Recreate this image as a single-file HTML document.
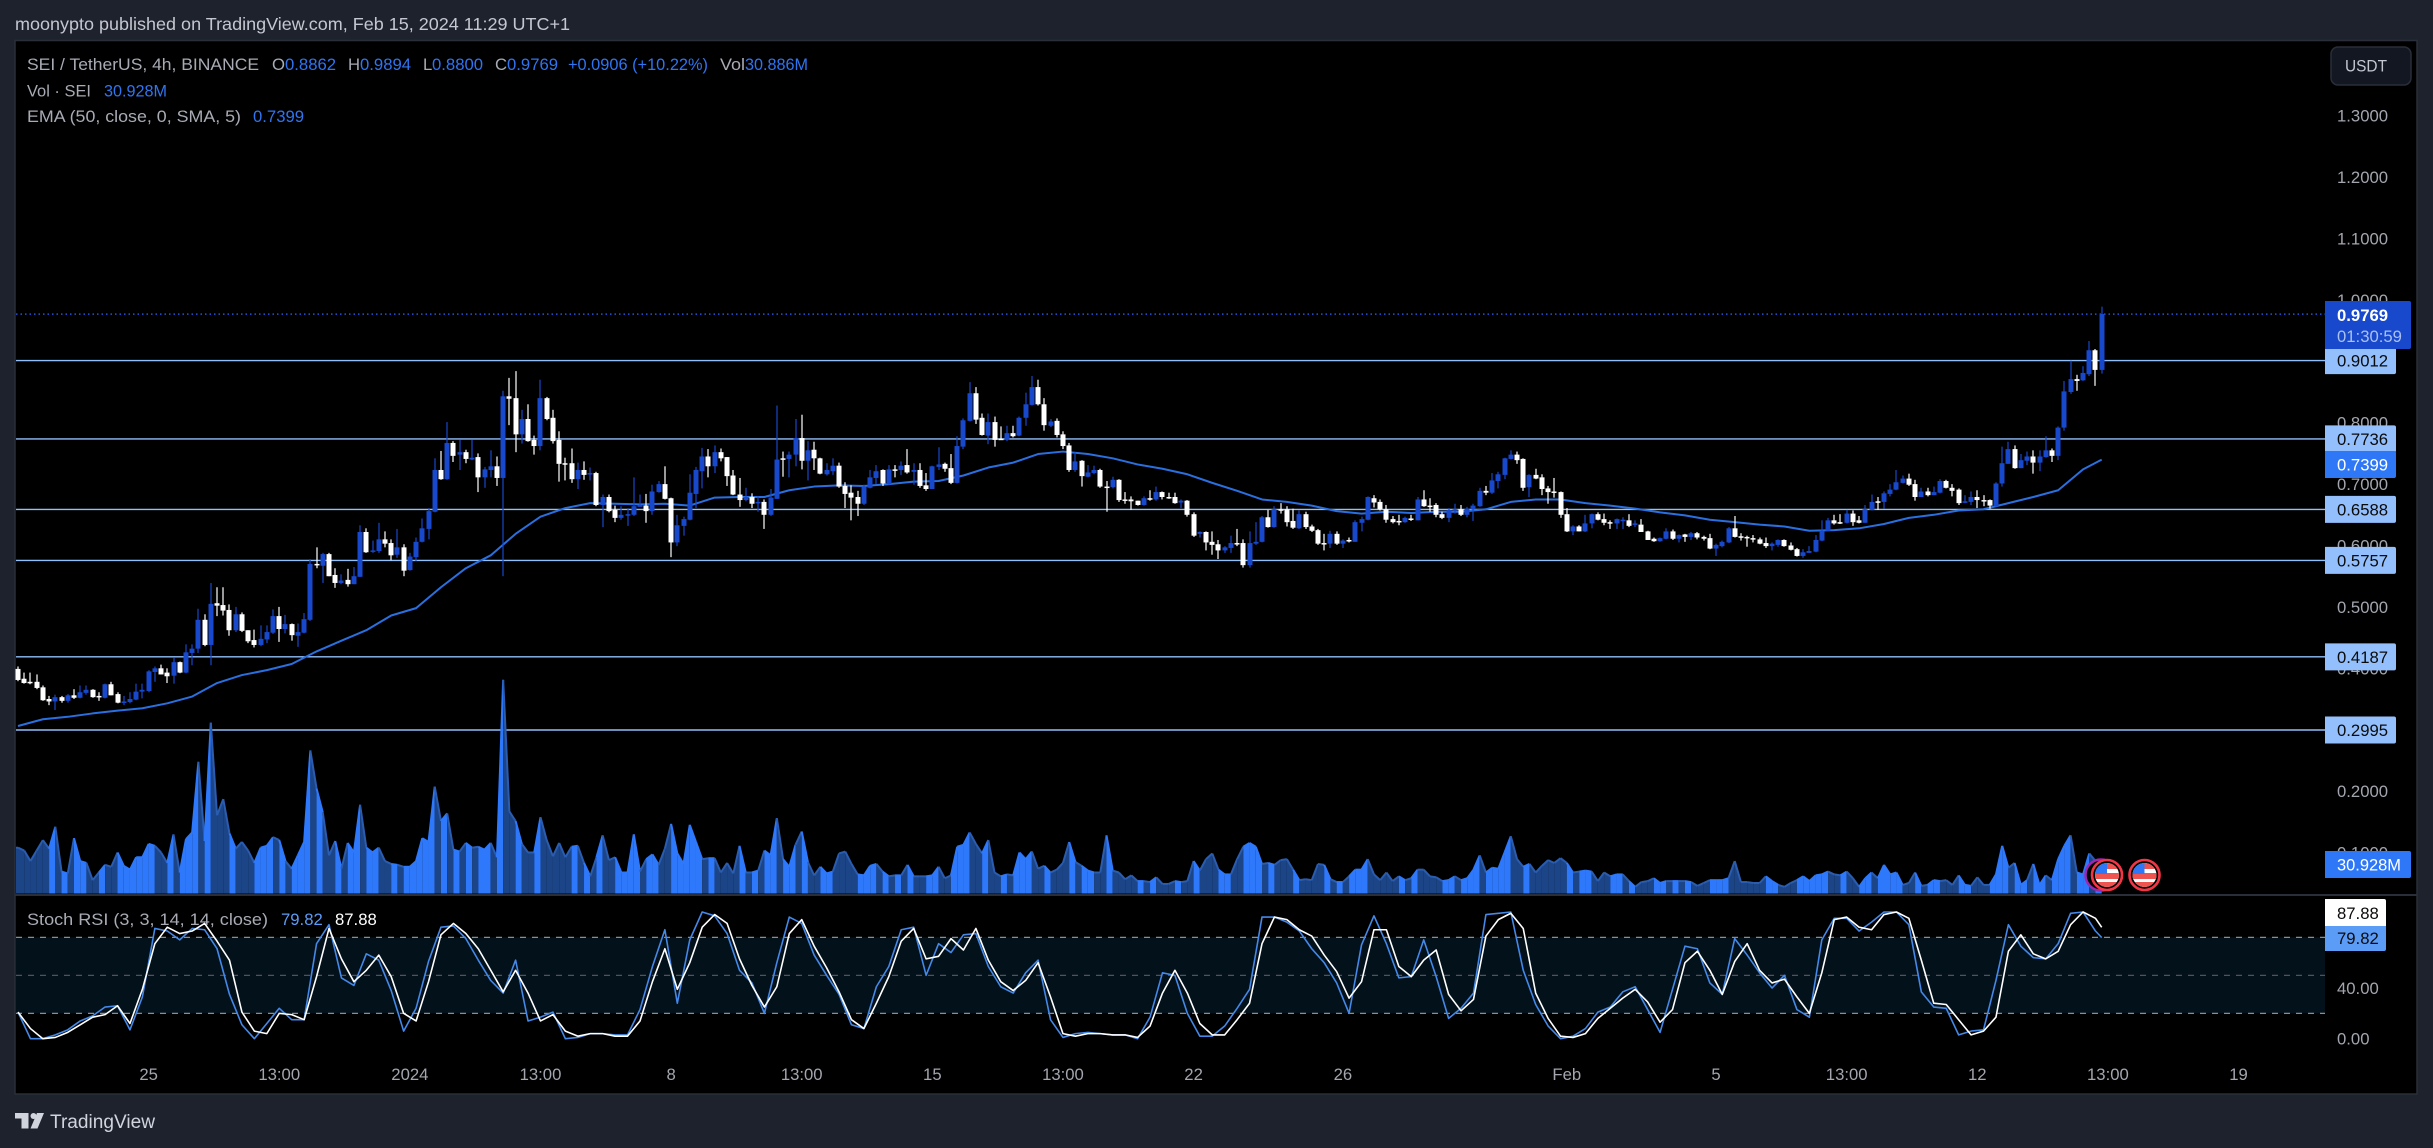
<!DOCTYPE html>
<html lang="en">
<head>
<meta charset="utf-8">
<title>SEI / TetherUS chart</title>
<style>
html,body{margin:0;padding:0;background:#1e222d;}
svg{display:block;}
text{font-family:"Liberation Sans",sans-serif;font-size:16.7px;}
.lg{fill:#a8abb4;}
.val{fill:#2f74f0;}
.tick{fill:#a3a6af;}
.blk{fill:#0a0a0a;}
</style>
</head>
<body>
<svg id="root" xmlns="http://www.w3.org/2000/svg" width="2433" height="1148" viewBox="0 0 2433 1148">
  <defs>
    <clipPath id="flagClip"><circle cx="0" cy="0" r="12"/></clipPath>
  </defs>
  <rect x="0" y="0" width="2433" height="1148" fill="#1e222d"/>
  <text x="15" y="30" fill="#c4c7cf" font-size="17" textLength="555" lengthAdjust="spacingAndGlyphs" style="font-size:17.5px">moonypto published on TradingView.com, Feb 15, 2024 11:29 UTC+1</text>
  <rect x="15" y="40.5" width="2402" height="1053.5" fill="#000" stroke="#2a2e39" stroke-width="1.5"/>
  <rect x="16" y="937.3" width="2309" height="76" fill="#03111b"/>
  <g id="grid"></g>
  <line x1="15" x2="2417" y1="895" y2="895" stroke="#2a2e39" stroke-width="2"/>
  <g id="volume"></g>
  <g id="ema"></g>
  <g id="candles"></g>
  <g id="stoch"></g>

  <g transform="translate(2101,875)">
    <circle r="15.5" fill="#000" stroke="#9c27b0" stroke-width="2.5"/>
  </g>
  <g transform="translate(2107,875)">
    <circle r="15" fill="#000" stroke="#f23645" stroke-width="2.6"/>
    <g clip-path="url(#flagClip)">
      <rect x="-12" y="-12" width="24" height="24" fill="#fff"/>
      <rect x="-12" y="-2" width="24" height="6" fill="#ef5350"/>
      <rect x="-12" y="7" width="24" height="6" fill="#ef5350"/>
      <rect x="0" y="-12" width="12" height="6" fill="#ef5350"/>
      <rect x="-12" y="-12" width="12" height="11" fill="#2e78f8"/>
    </g>
  </g>
  <g transform="translate(2144.5,875)">
    <circle r="15" fill="#000" stroke="#f23645" stroke-width="2.6"/>
    <g clip-path="url(#flagClip)">
      <rect x="-12" y="-12" width="24" height="24" fill="#fff"/>
      <rect x="-12" y="-2" width="24" height="6" fill="#ef5350"/>
      <rect x="-12" y="7" width="24" height="6" fill="#ef5350"/>
      <rect x="0" y="-12" width="12" height="6" fill="#ef5350"/>
      <rect x="-12" y="-12" width="12" height="11" fill="#2e78f8"/>
    </g>
  </g>

  <g id="priceTicks"></g>
  <g id="timeTicks"></g>
  <g id="stochTicks"></g>
  <g id="levelTags"></g>

  <g>
    <path d="M2325 451H2394a2 2 0 0 1 2 2V476a2 2 0 0 1-2 2H2325Z" fill="#2e78f8"/>
    <text x="2337" y="470.5" fill="#fff">0.7399</text>
  </g>
  <g>
    <path d="M2325 301H2409a2 2 0 0 1 2 2V347a2 2 0 0 1-2 2H2325Z" fill="#1848cc"/>
    <text x="2337" y="321" fill="#fff" style="font-weight:bold">0.9769</text>
    <text x="2337" y="342" fill="#a9c0f0">01:30:59</text>
  </g>
  <g>
    <path d="M2325 851H2409a2 2 0 0 1 2 2V876a2 2 0 0 1-2 2H2325Z" fill="#2e78f8"/>
    <text x="2337" y="870.5" fill="#fff" textLength="64" lengthAdjust="spacingAndGlyphs">30.928M</text>
  </g>
  <g>
    <path d="M2325 899H2384a2 2 0 0 1 2 2V926H2325Z" fill="#fff"/>
    <text x="2337" y="919" fill="#0a0a0a">87.88</text>
  </g>
  <g>
    <path d="M2325 926H2386V949a2 2 0 0 1-2 2H2325Z" fill="#5b9cf6"/>
    <text x="2337" y="944" fill="#0a0a0a">79.82</text>
  </g>

  <g>
    <rect x="2331" y="47" width="80" height="38" rx="7" fill="#131722" stroke="#2a2e39" stroke-width="1.5"/>
    <text x="2345" y="71.5" fill="#c4c7cf" textLength="42" lengthAdjust="spacingAndGlyphs">USDT</text>
  </g>

  <g>
    <text class="lg" x="27" y="70" textLength="232" lengthAdjust="spacingAndGlyphs">SEI / TetherUS, 4h, BINANCE</text>
    <text class="lg" x="272" y="70">O</text><text class="val" x="285" y="70">0.8862</text>
    <text class="lg" x="348" y="70">H</text><text class="val" x="360" y="70">0.9894</text>
    <text class="lg" x="423" y="70">L</text><text class="val" x="432" y="70">0.8800</text>
    <text class="lg" x="495" y="70">C</text><text class="val" x="507" y="70">0.9769</text>
    <text class="val" x="568" y="70" textLength="140" lengthAdjust="spacingAndGlyphs">+0.0906 (+10.22%)</text>
    <text class="lg" x="720" y="70" textLength="25" lengthAdjust="spacingAndGlyphs">Vol</text>
    <text class="val" x="745" y="70" textLength="63" lengthAdjust="spacingAndGlyphs">30.886M</text>
    <text class="lg" x="27" y="96.5" textLength="64" lengthAdjust="spacingAndGlyphs">Vol · SEI</text>
    <text class="val" x="104" y="96.5" textLength="63" lengthAdjust="spacingAndGlyphs">30.928M</text>
    <text class="lg" x="27" y="122" textLength="214" lengthAdjust="spacingAndGlyphs">EMA (50, close, 0, SMA, 5)</text>
    <text class="val" x="253" y="122">0.7399</text>
  </g>
  <g>
    <text class="lg" x="27" y="925" textLength="241" lengthAdjust="spacingAndGlyphs">Stoch RSI (3, 3, 14, 14, close)</text>
    <text x="281" y="925" fill="#5b9cf6">79.82</text>
    <text x="335" y="925" fill="#fff">87.88</text>
  </g>

  <g>
    <path d="M15 1113H28.5V1128.5H21.5V1118.5H15Z" fill="#d1d4dc"/>
    <circle cx="33.5" cy="1116" r="3" fill="#d1d4dc"/>
    <path d="M37 1113H44L37.5 1128.5H30.5Z" fill="#d1d4dc"/>
    <text x="50" y="1128" fill="#d1d4dc" textLength="105" lengthAdjust="spacingAndGlyphs" style="font-size:19px">TradingView</text>
  </g>
</svg>
<script>
const opens = [
.399,.383,.378,.378,.369,.350,.346,.353,.347,.356,
.352,.360,.365,.355,.352,.374,.358,.346,.345,.349,
.362,.363,.394,.400,.393,.388,.410,.393,.425,.432,
.479,.438,.506,.503,.495,.462,.488,.462,.446,.438,
.447,.458,.485,.464,.472,.453,.458,.479,.570,.567,
.586,.552,.539,.544,.537,.549,.622,.591,.591,.610,
.604,.585,.597,.560,.581,.606,.627,.655,.723,.708,
.767,.748,.752,.740,.744,.711,.723,.729,.710,.843,
.840,.781,.806,.772,.762,.840,.808,.772,.734,.734,
.708,.723,.716,.718,.666,.679,.658,.645,.650,.650,
.663,.665,.656,.687,.700,.677,.605,.632,.642,.684,
.721,.745,.729,.752,.744,.714,.683,.674,.679,.670,
.671,.650,.676,.742,.741,.748,.775,.738,.756,.742,
.716,.721,.730,.697,.686,.679,.668,.694,.710,.723,
.700,.724,.723,.731,.720,.723,.698,.692,.728,.733,
.726,.702,.761,.803,.848,.808,.779,.801,.774,.772,
.783,.779,.808,.829,.858,.830,.795,.803,.781,.763,
.723,.738,.712,.718,.723,.696,.695,.707,.675,.675,
.673,.666,.677,.675,.687,.679,.679,.670,.673,.651,
.619,.622,.606,.602,.592,.596,.604,.604,.568,.603,
.606,.646,.630,.659,.659,.640,.628,.651,.631,.625,
.604,.603,.619,.603,.609,.606,.637,.642,.677,.671,
.659,.643,.640,.638,.644,.641,.675,.665,.666,.651,
.645,.658,.659,.650,.659,.664,.689,.686,.705,.715,
.741,.748,.741,.695,.715,.711,.693,.688,.687,.651,
.623,.631,.623,.636,.651,.643,.638,.636,.642,.641,
.634,.634,.623,.611,.607,.611,.623,.611,.618,.614,
.620,.614,.612,.595,.599,.605,.628,.615,.614,.612,
.610,.604,.599,.601,.609,.600,.594,.583,.588,.590,
.608,.624,.641,.638,.637,.652,.641,.637,.658,.672,
.671,.684,.691,.702,.709,.700,.679,.688,.682,.686,
.705,.694,.691,.670,.671,.679,.674,.674,.664,.701,
.733,.757,.726,.738,.745,.735,.744,.755,.746,.792,
.850,.871,.869,.879,.918,.886];
const highs = [
.403,.393,.393,.390,.372,.355,.357,.355,.358,.366,
.372,.372,.366,.361,.375,.378,.361,.355,.361,.375,
.375,.397,.403,.406,.400,.418,.411,.439,.439,.497,
.488,.539,.532,.532,.504,.500,.491,.462,.463,.470,
.470,.496,.500,.487,.473,.473,.490,.578,.597,.588,
.588,.563,.553,.562,.565,.633,.628,.608,.637,.623,
.610,.627,.602,.588,.613,.644,.661,.742,.754,.801,
.770,.772,.756,.772,.750,.728,.755,.745,.852,.873,
.884,.821,.830,.779,.870,.842,.821,.786,.743,.758,
.735,.737,.727,.720,.683,.683,.665,.664,.661,.711,
.683,.684,.699,.705,.729,.678,.650,.647,.716,.728,
.759,.757,.763,.758,.744,.723,.710,.694,.685,.680,
.675,.692,.828,.753,.753,.806,.813,.770,.769,.743,
.734,.742,.735,.703,.698,.689,.699,.723,.731,.724,
.731,.731,.737,.757,.734,.734,.718,.730,.760,.735,
.749,.778,.807,.866,.858,.815,.815,.810,.794,.795,
.795,.810,.849,.876,.870,.840,.806,.807,.786,.767,
.752,.739,.731,.730,.725,.705,.712,.708,.687,.680,
.673,.680,.690,.696,.688,.686,.686,.675,.674,.654,
.623,.623,.623,.609,.599,.616,.627,.610,.623,.638,
.648,.658,.664,.669,.664,.660,.657,.655,.634,.627,
.619,.624,.623,.610,.613,.641,.647,.680,.682,.675,
.666,.648,.650,.647,.650,.679,.690,.677,.669,.655,
.661,.668,.666,.663,.668,.694,.697,.718,.720,.743,
.755,.753,.742,.716,.725,.716,.697,.710,.688,.661,
.633,.633,.650,.652,.654,.652,.641,.644,.646,.651,
.641,.643,.624,.613,.613,.628,.626,.618,.619,.622,
.622,.616,.619,.603,.608,.630,.648,.620,.616,.617,
.613,.613,.605,.610,.610,.605,.596,.594,.599,.617,
.641,.645,.650,.651,.658,.657,.648,.666,.683,.679,
.688,.700,.723,.714,.717,.707,.694,.694,.696,.708,
.707,.700,.693,.682,.688,.690,.682,.675,.703,.761,
.769,.763,.749,.753,.755,.755,.778,.758,.794,.868,
.901,.878,.892,.933,.920,.989];
const lows = [
.379,.375,.374,.366,.347,.340,.332,.344,.344,.350,
.351,.357,.352,.347,.351,.356,.343,.340,.343,.348,
.351,.361,.378,.390,.376,.375,.392,.392,.405,.425,
.436,.405,.485,.486,.453,.459,.459,.441,.434,.436,
.441,.456,.443,.457,.445,.435,.457,.477,.563,.539,
.550,.531,.537,.533,.537,.549,.588,.588,.588,.597,
.576,.580,.550,.559,.575,.605,.610,.654,.707,.707,
.736,.723,.734,.739,.687,.694,.711,.697,.550,.796,
.752,.766,.769,.748,.755,.804,.766,.704,.706,.702,
.692,.707,.706,.664,.630,.654,.638,.642,.632,.648,
.664,.637,.650,.686,.675,.581,.599,.616,.641,.661,
.693,.711,.718,.737,.697,.682,.663,.672,.661,.655,
.627,.648,.676,.712,.711,.729,.724,.706,.723,.716,
.714,.715,.694,.661,.641,.648,.666,.693,.700,.697,
.699,.711,.715,.717,.699,.694,.689,.692,.723,.720,
.700,.701,.757,.802,.798,.779,.765,.761,.772,.770,
.776,.778,.795,.828,.828,.787,.793,.776,.757,.720,
.720,.696,.711,.716,.694,.655,.693,.671,.668,.658,
.665,.665,.673,.673,.675,.676,.668,.661,.647,.614,
.613,.592,.585,.578,.588,.588,.599,.564,.564,.601,
.605,.629,.629,.652,.631,.627,.627,.627,.622,.601,
.592,.596,.601,.596,.605,.606,.623,.641,.662,.657,
.637,.636,.633,.637,.640,.641,.663,.655,.646,.643,
.638,.652,.648,.646,.640,.663,.682,.684,.693,.708,
.740,.733,.689,.679,.708,.682,.668,.678,.645,.622,
.617,.623,.622,.628,.641,.633,.627,.627,.627,.630,
.630,.622,.609,.606,.606,.610,.609,.605,.606,.609,
.610,.608,.594,.583,.597,.604,.613,.608,.598,.605,
.602,.596,.592,.598,.598,.592,.582,.580,.588,.589,
.607,.623,.634,.635,.636,.632,.636,.637,.657,.658,
.660,.680,.690,.701,.697,.673,.679,.680,.682,.685,
.693,.680,.666,.669,.666,.661,.664,.660,.663,.696,
.733,.725,.726,.731,.717,.721,.743,.736,.739,.787,
.847,.852,.868,.876,.860,.880];
const closes = [
.381,.376,.376,.368,.348,.346,.353,.347,.356,.352,
.361,.365,.353,.354,.374,.356,.344,.346,.350,.362,
.365,.395,.400,.390,.387,.410,.393,.426,.432,.479,
.438,.505,.502,.494,.462,.488,.461,.444,.438,.448,
.459,.485,.464,.472,.454,.459,.480,.570,.569,.586,
.550,.539,.543,.537,.550,.622,.589,.592,.610,.603,
.584,.597,.559,.582,.606,.628,.656,.723,.708,.767,
.746,.752,.741,.743,.711,.724,.729,.710,.843,.839,
.781,.806,.770,.762,.840,.806,.770,.733,.733,.708,
.723,.715,.718,.666,.679,.656,.645,.650,.651,.664,
.666,.656,.688,.700,.676,.605,.633,.643,.686,.723,
.745,.729,.752,.742,.713,.683,.674,.679,.668,.671,
.650,.678,.740,.740,.748,.775,.738,.755,.742,.717,
.723,.730,.696,.684,.678,.668,.696,.711,.721,.701,
.724,.723,.730,.719,.723,.697,.692,.729,.732,.725,
.702,.762,.804,.848,.805,.780,.801,.772,.773,.783,
.778,.808,.830,.858,.830,.796,.802,.780,.762,.723,
.737,.713,.719,.723,.696,.695,.707,.674,.674,.672,
.666,.677,.676,.687,.679,.678,.669,.673,.650,.616,
.622,.605,.601,.592,.597,.604,.603,.568,.604,.606,
.646,.630,.659,.658,.638,.629,.651,.630,.624,.603,
.603,.619,.603,.608,.607,.638,.643,.679,.670,.659,
.642,.638,.638,.645,.643,.675,.664,.664,.650,.645,
.658,.659,.650,.660,.665,.689,.686,.706,.716,.742,
.748,.739,.694,.715,.709,.692,.687,.687,.650,.623,
.631,.623,.636,.651,.642,.637,.637,.643,.642,.632,
.636,.622,.609,.607,.612,.623,.611,.617,.614,.620,
.613,.611,.595,.601,.606,.628,.614,.614,.612,.610,
.603,.599,.603,.609,.599,.593,.583,.589,.591,.609,
.624,.641,.636,.637,.652,.638,.637,.659,.671,.671,
.685,.691,.703,.709,.699,.679,.688,.682,.687,.705,
.694,.689,.669,.672,.679,.674,.673,.665,.701,.734,
.757,.726,.739,.745,.735,.745,.755,.746,.792,.851,
.871,.868,.881,.918,.886,.977];
const volumesM = [
48,45,34,45,56,47,70,23,21,58,
34,32,14,22,30,28,43,29,25,38,
38,52,50,43,32,62,22,57,64,138,
55,179,82,99,63,47,54,45,32,48,
50,59,56,34,26,40,54,150,110,85,
40,55,26,53,43,93,48,43,48,34,
31,30,28,28,34,58,54,112,76,84,
46,44,53,48,49,46,53,38,224,86,
76,52,43,43,80,56,39,53,38,49,
50,32,18,38,61,35,38,22,22,62,
23,36,41,30,47,73,42,31,72,54,
36,37,37,22,32,21,50,22,22,24,
45,40,79,36,28,51,65,33,19,28,
21,23,42,44,31,20,19,29,31,23,
18,19,19,30,18,18,18,19,28,16,
19,49,51,64,52,42,56,22,18,20,
19,43,36,44,26,29,22,25,32,54,
33,29,24,22,22,61,24,22,15,19,
13,13,12,17,10,10,13,12,13,34,
24,36,42,25,20,20,36,49,53,49,
31,32,30,35,36,25,14,15,14,31,
30,15,12,12,18,25,25,36,20,14,
22,13,18,14,16,25,25,18,17,13,
14,18,14,16,25,40,22,27,26,43,
60,36,28,31,22,29,35,32,37,32,
22,23,24,23,13,22,18,20,20,13,
7,12,13,16,11,13,13,13,13,12,
8,11,14,14,14,16,34,12,12,11,
11,18,13,9,7,11,14,18,13,19,
20,23,20,19,23,16,7,16,22,16,
30,20,22,9,11,22,8,9,14,13,
14,9,19,9,8,17,9,9,20,50,
27,32,9,14,31,9,19,14,36,50,
61,22,20,42,34,30.928];
const emaValues = [
.306,.317,.321,.3265,.331,.335,.343,.354,.376,.389,.397,.407,.4275,.445,.462,.486,.498,.532,.563,.584,.619,.647,.661,.669,.668,.667,.668,.665,
.678,.679,.679,.690,.696,.698,.697,.700,.704,.705,.714,.727,.735,.749,.753,.749,.742,.732,.725,.716,.702,.689,.675,.671,.665,.656,.652,.655,
.653,.655,.655,.659,.671,.675,.675,.669,.665,.660,.654,.649,.642,.638,.634,.631,.624,.625,.628,.635,.645,.650,.657,.659,.669,.679,.690,.724,
.7399];
const stochK = [
21,0,0,3,7,14,18,25,26,7,33,87,85,78,87,86,71,35,11,0,12,24,15,15,75,90,48,42,67,62,38,6,24,61,88,89,79,62,46,36,62,14,17,21,0,1,4,4,3,3,23,57,86,28,78,100,97,83,54,44,20,60,96,
91,66,50,35,11,8,41,57,86,88,50,75,68,82,83,57,41,36,52,62,15,1,4,5,4,3,3,0,17,52,50,20,2,2,10,24,39,96,96,92,85,71,60,44,20,74,97,75,48,49,78,49,16,24,36,98,99,100,54,27,10,0,2,8,21,
25,37,41,23,5,39,73,71,44,35,79,66,52,40,50,23,17,78,95,95,85,92,100,100,90,37,25,24,3,6,7,46,90,73,64,63,75,99,100,85,
79.82];
const stochD = [
21,8,0,1,5,11,17,19,26,12,39,75,88,83,85,91,77,62,21,6,4,20,19,15,49,87,63,45,54,66,49,20,14,45,82,91,83,71,54,37,54,36,14,19,6,2,4,4,2,2,14,45,71,39,60,88,98,91,63,42,25,41,83,
94,73,56,37,15,8,28,49,77,87,63,65,79,70,87,62,45,38,46,60,33,4,2,4,4,3,3,1,10,36,54,36,12,3,3,15,28,75,96,94,86,81,66,53,32,45,86,86,57,49,62,70,35,22,31,81,94,99,87,36,16,2,1,4,16,
24,32,39,29,13,23,60,69,54,35,61,75,54,44,47,33,20,52,94,96,88,86,98,100,95,62,28,27,15,3,6,17,69,82,67,63,69,90,100,95,
87.88];
const priceTicks = [1.3,1.2,1.1,1.0,0.8,0.7,0.6,0.5,0.4,0.2,0.1];
const levelPrices = [0.9012,0.7736,0.6588,0.5757,0.4187,0.2995];
const lastPrice = 0.9769;
const stochGuides = [80,50,20];
const stochTickValues = [40,0];
const timeTickLabels = ['25','13:00','2024','13:00','8','13:00','15','13:00','22','26','Feb','5','13:00','12','13:00','19'];
const timeTickBars = [21,42,63,84,105,126,147,168,189,213,249,273,294,315,336,357];

const NS = 'http://www.w3.org/2000/svg';
const priceY = p => 115.7 + (1.3 - p) * 614;
const barX = i => 18 + 6.22 * i;
const volY = v => 893.5 - v * 0.954;
const stochY = v => 1038.7 - v * 1.267;
const emaBar = k => Math.min(k * 4, 335);
const stochBar = k => Math.min(k * 2, 335);
function mk(tag, parent, props, text) {
  const el = document.createElementNS(NS, tag);
  for (const key in props) el.setAttribute(key, props[key]);
  if (text !== undefined) el.textContent = text;
  parent.appendChild(el);
  return el;
}

const grid = document.getElementById('grid');
const lastLine = mk('line', grid, {x1:16, x2:2325, y1:priceY(lastPrice), y2:priceY(lastPrice), stroke:'#1f55e0', 'stroke-width':1.5, 'stroke-dasharray':'1.5 3'});


levelPrices.forEach(p => {
  const ln = mk('line', grid, {x1:16, x2:2325, y1:priceY(p), y2:priceY(p), stroke:'#90bff9', 'stroke-width':1.4});
  
  
});
stochGuides.forEach(v => {
  const ln = mk('line', grid, {x1:16, x2:2325, y1:stochY(v), y2:stochY(v), stroke: v === 50 ? '#4e535e' : '#8a8d96', 'stroke-width':1.2, 'stroke-dasharray':'6 6'});
  
  
});

const volG = document.getElementById('volume');
volumesM.forEach((v, i) => {
  const up = closes[i] >= opens[i];
  const x0 = i === 0 ? 16 : barX(i - 1);
  const v0 = i === 0 ? v : volumesM[i - 1];
  const x1 = barX(i);
  const seg = mk('polygon', volG, {points:`${x0},893.5 ${x0},${volY(v0)} ${x1},${volY(v)} ${x1},893.5`, fill: up ? '#2e78fb' : '#1c4587'});
  
  
  const edge = mk('line', volG, {x1:x0, y1:volY(v0), x2:x1, y2:volY(v), stroke: up ? '#2e78fb' : '#2a5cb0', 'stroke-width':2});
  
  
});

const emaG = document.getElementById('ema');
const emaLine = mk('polyline', emaG, {points: emaValues.map((p, k) => `${barX(emaBar(k))},${priceY(p)}`).join(' '), fill:'none', stroke:'#2a6fe0', 'stroke-width':2, 'stroke-linejoin':'round'});



const candG = document.getElementById('candles');
opens.forEach((o, i) => {
  const c = closes[i];
  const color = c >= o ? '#1848cc' : '#ffffff';
  const x = barX(i);
  const px = Math.round(x);
  const wick = mk('rect', candG, {x:px - 0.6, width:1.2, y:priceY(highs[i]), height:Math.max(1, priceY(lows[i]) - priceY(highs[i])), fill:color});
  
  
  const top = priceY(Math.max(o, c));
  const h = Math.max(1.5, priceY(Math.min(o, c)) - top);
  const body = mk('rect', candG, {x:px - 2.5, width:5, y:top, height:h, fill:color});
  
  
});

const stochG = document.getElementById('stoch');
const kLine = mk('polyline', stochG, {points: stochK.map((v, k) => `${barX(stochBar(k))},${stochY(v)}`).join(' '), fill:'none', stroke:'#4488e8', 'stroke-width':1.6, 'stroke-linejoin':'round'});


const dLine = mk('polyline', stochG, {points: stochD.map((v, k) => `${barX(stochBar(k))},${stochY(v)}`).join(' '), fill:'none', stroke:'#ffffff', 'stroke-width':1.6, 'stroke-linejoin':'round'});



const pt = document.getElementById('priceTicks');
priceTicks.forEach(p => {
  const t = mk('text', pt, {x:2337, y:priceY(p) + 6, class:'tick'}, p.toFixed(4));
  
  
});
const st = document.getElementById('stochTicks');
stochTickValues.forEach(v => {
  const t = mk('text', st, {x:2337, y:stochY(v) + 6, class:'tick'}, v.toFixed(2));
  
  
});
const tt = document.getElementById('timeTicks');
timeTickLabels.forEach((lab, k) => {
  const t = mk('text', tt, {x:barX(timeTickBars[k]), y:1080, 'text-anchor':'middle', class:'tick'}, lab);
  
  
});
const tags = document.getElementById('levelTags');
levelPrices.forEach(p => {
  const y = priceY(p);
  const box = mk('path', tags, {d:`M2325 ${y - 13.5}H2394a2 2 0 0 1 2 2V${y + 11.5}a2 2 0 0 1-2 2H2325Z`, fill:'#93c0fd'});
  
  
  const t = mk('text', tags, {x:2337, y:y + 6, class:'blk'}, p.toFixed(4));
  
  
});
</script>
</body>
</html>
